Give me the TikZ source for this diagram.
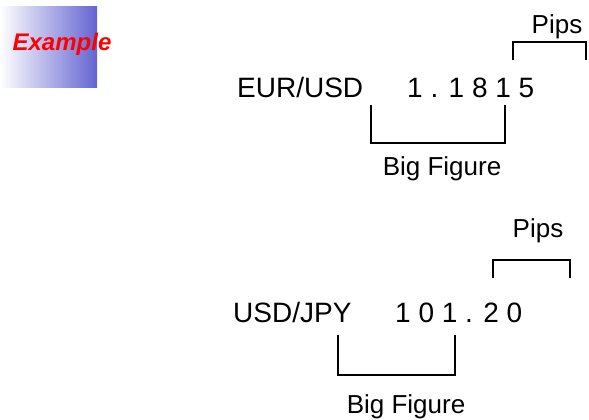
\documentclass[tikz,border=0pt]{standalone}
\usepackage{fontspec}
\setmainfont{Liberation Sans}
\begin{document}
\begin{tikzpicture}[x=1pt,y=-1pt,
  lbl/.style={inner sep=0pt,font=\fontsize{26}{30}\selectfont},
  big/.style={inner sep=0pt,font=\fontsize{28}{32}\selectfont},
  brk/.style={draw=black,line width=1.3pt}]
\useasboundingbox (0,0) rectangle (589,420);
% example box
\shade[left color=white,right color={rgb,255:red,100;green,100;blue,210}] (0,7) rectangle (97,87);
\node[inner sep=0pt,text=red,font=\fontsize{24}{28}\selectfont\bfseries\itshape] (ex) at (62,44) {Example};
% EUR/USD
\node[big,anchor=base west] (eur) at (237,97) {EUR/USD};
\node[big,anchor=base west] (q1) at (407,97) {1 . 1 8 1 5};
\coordinate (p1a) at (513,60); \coordinate (p1b) at (586,60);
\draw[brk] (p1a) -- ++(0,-18) -| (p1b);
\node[lbl,anchor=base] (pips1) at (557,34) {Pips};
\coordinate (b1a) at (371,105); \coordinate (b1b) at (505,105);
\draw[brk] (b1a) -- (b1a |- 0,143) -- (b1b |- 0,143) -- (b1b);
\node[lbl,anchor=base] (bf1) at (442,175) {Big Figure};
% USD/JPY
\node[big,anchor=base west] (usd) at (233,322) {USD/JPY};
\node[big,anchor=base west] (q2) at (395,322) {1 0 1 . 2 0};
\coordinate (p2a) at (493,278); \coordinate (p2b) at (570,278);
\draw[brk] (p2a) -- ++(0,-18) -| (p2b);
\node[lbl,anchor=base] (pips2) at (538,237) {Pips};
\coordinate (b2a) at (338,335); \coordinate (b2b) at (455,335);
\draw[brk] (b2a) -- (b2a |- 0,375) -- (b2b |- 0,375) -- (b2b);
\node[lbl,anchor=base] (bf2) at (406,413) {Big Figure};
\end{tikzpicture}
\end{document}
